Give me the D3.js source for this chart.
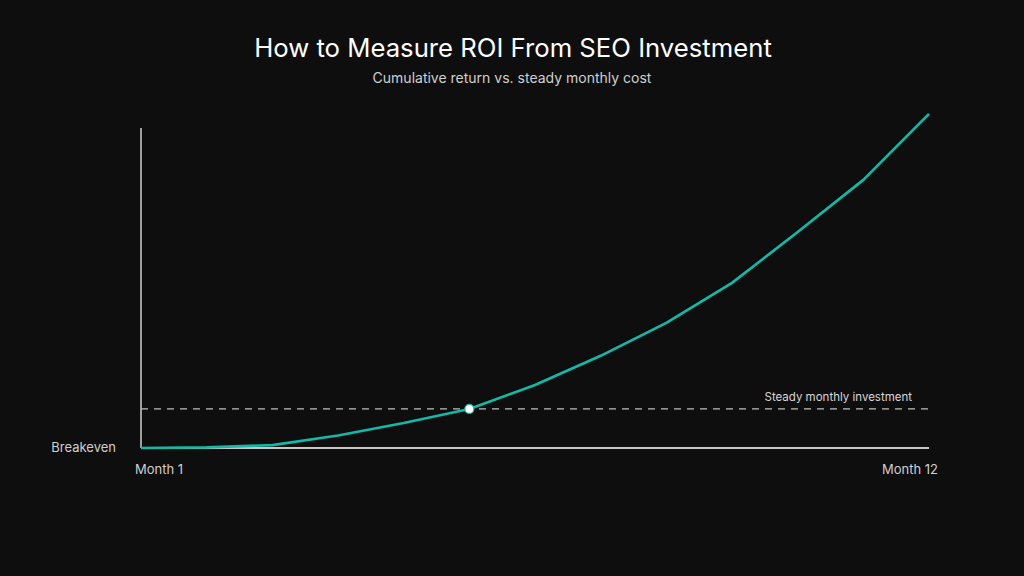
<!DOCTYPE html>
<html>
<head>
<meta charset="utf-8">
<script src="https://cdn.jsdelivr.net/npm/d3@7"></script>
<style>
  body { margin: 0; background: #0e0e0e; }
  svg { display: block; font-family: Inter, "Noto Sans", sans-serif; }
</style>
</head>
<body>
<svg width="1024" height="576"></svg>
<script>
// cumulative return per step (0 = breakeven)
var steps = [0, 1, 2, 3, 4, 5, 6, 7, 8, 9, 10, 11, 12];
var returns = [0, 0.2, 0.9, 3.9, 7.8, 12.2, 19.7, 28.8, 39.1, 51.6, 67.5, 83.8, 104.4];
var investment = 12.2;
var breakEvenStep = 5;
var xLabels = ["Month 1", "Month 12"];

var data = steps.map(function(s, i) { return {step: s, value: returns[i]}; });

var svg = d3.select("svg"),
    margin = {top: 128, right: 95, bottom: 128, left: 141},
    width = svg.attr("width") - margin.left - margin.right,
    height = svg.attr("height") - margin.top - margin.bottom;

var xScale = d3.scaleLinear()
    .domain(d3.extent(steps))
    .range([0, width]);

var yScale = d3.scaleLinear()
    .domain([0, 100])
    .range([height, 0]);

var g = svg.append("g")
    .attr("transform", "translate(" + margin.left + "," + margin.top + ")");

// axes as plain lines
g.append("line")
    .attr("x1", 0).attr("x2", 0)
    .attr("y1", yScale(100)).attr("y2", yScale(0))
    .attr("stroke", "#d0d0d0")
    .attr("stroke-width", 1.5);

g.append("line")
    .attr("x1", 0).attr("x2", xScale(12))
    .attr("y1", yScale(0)).attr("y2", yScale(0))
    .attr("stroke", "#c8c8c8")
    .attr("stroke-width", 2);

// steady investment line
g.append("line")
    .attr("x1", 0).attr("x2", xScale(12))
    .attr("y1", yScale(investment)).attr("y2", yScale(investment))
    .attr("stroke", "#bdbdbd")
    .attr("stroke-width", 1.2)
    .attr("stroke-dasharray", "7,6");

g.append("text")
    .attr("x", xScale(12) - 17)
    .attr("y", yScale(investment) - 8)
    .attr("text-anchor", "end")
    .attr("fill", "#d6d6d6")
    .style("font-size", "11.5px")
    .text("Steady monthly investment");

var line = d3.line()
    .x(function(d) { return xScale(d.step); })
    .y(function(d) { return yScale(d.value); });

g.append("path")
    .datum(data)
    .attr("fill", "none")
    .attr("stroke", "#14b8a6")
    .attr("stroke-width", 2.7)
    .attr("stroke-linejoin", "round")
    .attr("d", line);

g.append("circle")
    .attr("cx", xScale(breakEvenStep))
    .attr("cy", yScale(returns[breakEvenStep]))
    .attr("r", 4.5)
    .attr("fill", "#ffffff")
    .attr("stroke", "#14b8a6")
    .attr("stroke-width", 1.2);

// labels
g.append("text")
    .attr("x", -25)
    .attr("y", yScale(0) + 4)
    .attr("text-anchor", "end")
    .attr("fill", "#cfcfcf")
    .style("font-size", "13px")
    .text("Breakeven");

g.append("text")
    .attr("x", xScale(0) - 6)
    .attr("y", yScale(0) + 26)
    .attr("text-anchor", "start")
    .attr("fill", "#cfcfcf")
    .style("font-size", "13px")
    .text(xLabels[0]);

g.append("text")
    .attr("x", xScale(12) + 9)
    .attr("y", yScale(0) + 26)
    .attr("text-anchor", "end")
    .attr("fill", "#cfcfcf")
    .style("font-size", "13px")
    .text(xLabels[1]);

// title
svg.append("text")
    .attr("x", 513)
    .attr("y", 57)
    .attr("text-anchor", "middle")
    .attr("fill", "#ffffff")
    .style("font-size", "25.7px")
    .text("How to Measure ROI From SEO Investment");

svg.append("text")
    .attr("x", 512)
    .attr("y", 83)
    .attr("text-anchor", "middle")
    .attr("fill", "#d0d0d0")
    .style("font-size", "14px")
    .text("Cumulative return vs. steady monthly cost");
</script>
</body>
</html>
